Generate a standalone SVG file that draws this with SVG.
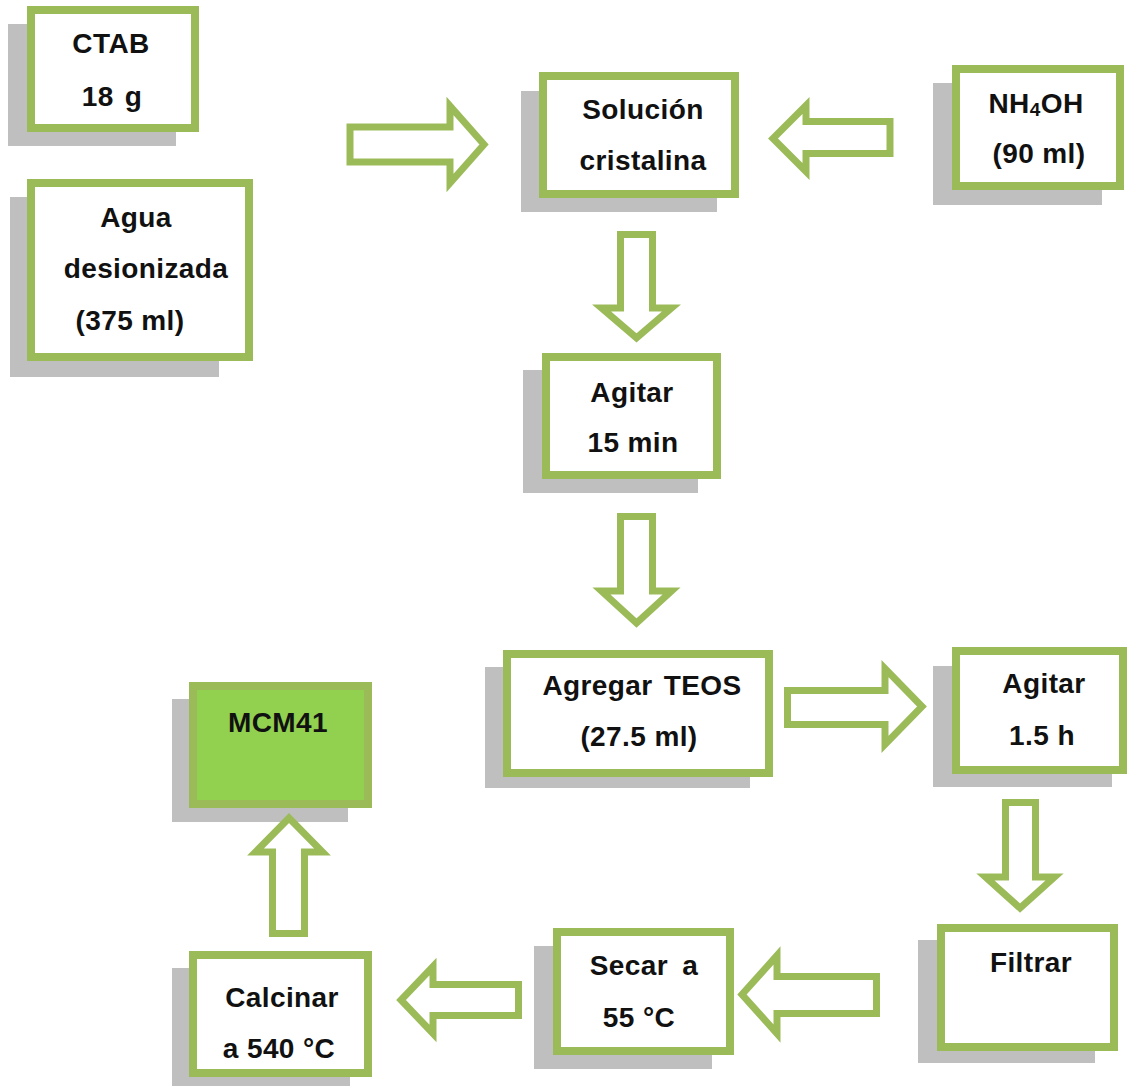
<svg xmlns="http://www.w3.org/2000/svg" width="1128" height="1086" viewBox="0 0 1128 1086">
  <style>
    .shadow { fill: #bfbfbf; }
    .box { fill: #ffffff; stroke: #9bbb59; stroke-width: 8; }
    .box.final { fill: #92d050; }
    .arrow { fill: #ffffff; stroke: #9bbb59; stroke-width: 7; stroke-linejoin: miter; }
    text { font-family: "Liberation Sans", Arial, sans-serif; font-weight: bold; font-size: 28px; fill: #111111; text-anchor: middle; letter-spacing: 0.4px; }
  </style>
  <rect width="1128" height="1086" fill="#ffffff"/>

  <!-- process steps -->
  <g id="ctab">
    <rect class="shadow" x="8" y="24" width="168" height="122"/>
    <rect class="box" x="31" y="10" width="164" height="118"/>
    <text x="111" y="53">CTAB</text>
    <text x="112" y="106">18 <tspan dx="3">g</tspan></text>
  </g>

  <g id="agua">
    <rect class="shadow" x="10" y="197" width="209" height="180"/>
    <rect class="box" x="31" y="183" width="218" height="174"/>
    <text x="136" y="227">Agua</text>
    <text x="146" y="278">desionizada</text>
    <text x="130" y="330">(375 ml)</text>
  </g>

  <g id="solucion">
    <rect class="shadow" x="521" y="91" width="196" height="121"/>
    <rect class="box" x="543" y="76" width="192" height="118"/>
    <text x="643" y="119">Solución</text>
    <text x="643" y="170">cristalina</text>
  </g>

  <g id="nh4oh">
    <rect class="shadow" x="933" y="83" width="169" height="122"/>
    <rect class="box" x="956" y="69" width="164" height="117"/>
    <text x="1036" y="113">NH<tspan font-size="19" dy="3">4</tspan><tspan dy="-3">OH</tspan></text>
    <text x="1039" y="163">(90 ml)</text>
  </g>

  <g id="agitar-15">
    <rect class="shadow" x="523" y="370" width="175" height="123"/>
    <rect class="box" x="546" y="357" width="171" height="118"/>
    <text x="632" y="402">Agitar</text>
    <text x="633" y="452">15 min</text>
  </g>

  <g id="agregar-teos">
    <rect class="shadow" x="485" y="667" width="265" height="121"/>
    <rect class="box" x="507" y="654" width="262" height="119"/>
    <text x="642" y="695">Agregar <tspan dx="3">TEOS</tspan></text>
    <text x="639" y="746">(27.5 ml)</text>
  </g>

  <g id="agitar-1-5">
    <rect class="shadow" x="933" y="666" width="179" height="121"/>
    <rect class="box" x="956" y="651" width="167" height="119"/>
    <text x="1044" y="693">Agitar</text>
    <text x="1042" y="745">1.5 h</text>
  </g>

  <g id="filtrar">
    <rect class="shadow" x="918" y="940" width="177" height="123"/>
    <rect class="box" x="941" y="928" width="173" height="119"/>
    <text x="1031" y="972">Filtrar</text>
  </g>

  <g id="secar">
    <rect class="shadow" x="534" y="946" width="178" height="123"/>
    <rect class="box" x="557" y="932" width="173" height="119"/>
    <text x="644" y="975">Secar <tspan dx="6">a</tspan></text>
    <text x="639" y="1027">55 °C</text>
  </g>

  <g id="calcinar">
    <rect class="shadow" x="172" y="968" width="178" height="118"/>
    <rect class="box" x="193" y="955" width="175" height="118"/>
    <text x="282" y="1007">Calcinar</text>
    <text x="279" y="1058">a 540 °C</text>
  </g>

  <g id="mcm41">
    <rect class="shadow" x="172" y="699" width="176" height="123"/>
    <rect class="box final" x="193" y="686" width="175" height="118"/>
    <text x="278" y="732">MCM41</text>
  </g>

  <!-- block arrows between steps -->
  <g id="connectors">
    <path class="arrow" d="M350,127 L450,127 L450,106 L484,144.5 L450,183 L450,162 L350,162 Z"/>
    <path class="arrow" d="M890,121.5 L806,121.5 L806,105.5 L773,138.5 L806,171.5 L806,153.5 L890,153.5 Z"/>
    <path class="arrow" d="M620.5,234.5 L652.5,234.5 L652.5,308 L671.5,308 L636.5,338 L601.5,308 L620.5,308 Z"/>
    <path class="arrow" d="M620.5,516.5 L652.5,516.5 L652.5,591 L671.5,591 L636.5,623 L601.5,591 L620.5,591 Z"/>
    <path class="arrow" d="M787.5,690.5 L885,690.5 L885,668.5 L922,706.5 L885,744.5 L885,724.5 L787.5,724.5 Z"/>
    <path class="arrow" d="M1005.5,802.5 L1035.5,802.5 L1035.5,877 L1054.5,877 L1020,908 L985.5,877 L1005.5,877 Z"/>
    <path class="arrow" d="M876.5,976.5 L777,976.5 L777,955.5 L742,994.5 L777,1033.5 L777,1013.5 L876.5,1013.5 Z"/>
    <path class="arrow" d="M518.5,984.5 L433,984.5 L433,966.5 L401,1000 L433,1033.5 L433,1015.5 L518.5,1015.5 Z"/>
    <path class="arrow" d="M272.5,933.5 L304.5,933.5 L304.5,852 L322.5,852 L289,818 L255.5,852 L272.5,852 Z"/>
  </g>
</svg>
